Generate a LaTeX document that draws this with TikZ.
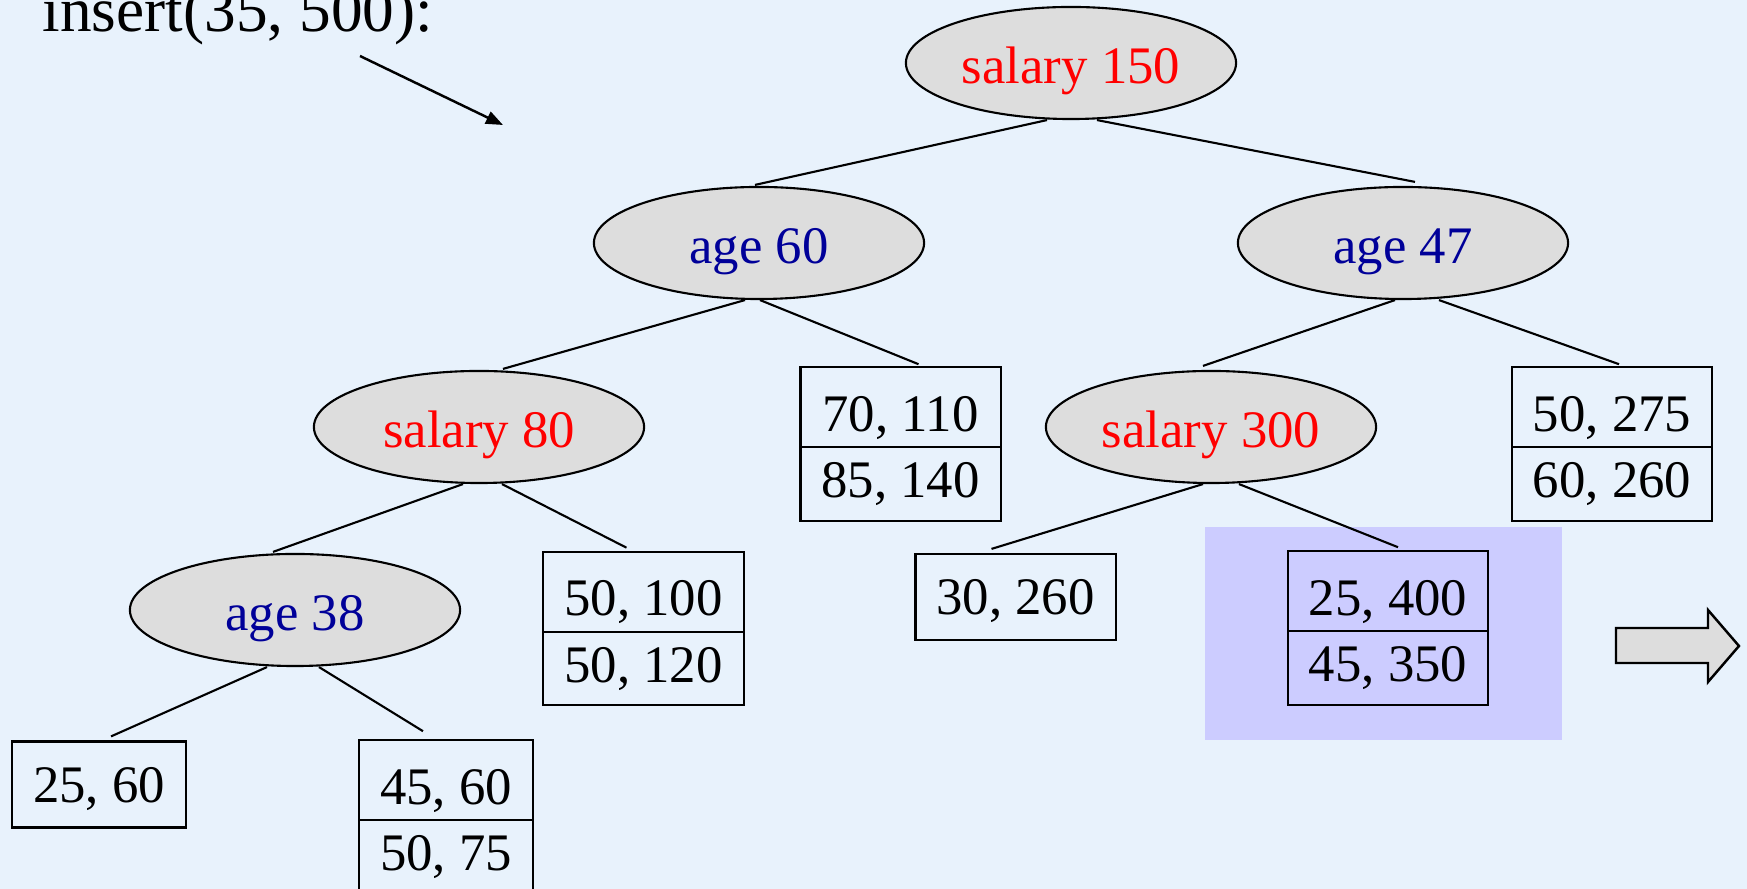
\documentclass[tikz,border=0pt]{standalone}
\usepackage{fontspec}
\setmainfont{Liberation Serif}
\usetikzlibrary{calc}
\usetikzlibrary{shapes.geometric,shapes.multipart,arrows.meta}

\definecolor{bgblue}{RGB}{232,242,252}
\definecolor{nodegray}{RGB}{221,221,221}
\definecolor{hilite}{RGB}{204,204,255}
\definecolor{agecol}{RGB}{0,0,153}

\tikzset{
    test/.style={ellipse, draw, fill=nodegray, line width=0.6pt,
        minimum width=3.3cm, minimum height=1.12cm, inner sep=0pt,
        text height=0.51cm, text depth=0.10cm,
        font=\fontsize{15}{18}\selectfont},
    agetest/.style={test, text=agecol},
    saltest/.style={test, text=red},
    leafone/.style={rectangle, draw, line width=0.6pt, minimum height=0.86cm,
        inner sep=0pt, text height=0.46cm, text depth=0.10cm,
        font=\fontsize{15}{18}\selectfont},
    leaftwo/.style={rectangle split, rectangle split parts=2, draw, line width=0.6pt,
        text height=0.49cm, text depth=0.01cm, inner ysep=0.14cm, inner xsep=0pt,
        font=\fontsize{15}{18}\selectfont},
    treeedge/.style={line width=0.6pt}
}

\begin{document}
\begin{tikzpicture}[x=0.01cm,y=-0.01cm]
    % background and margins
    \fill[bgblue] (0,0) rectangle (1747,889);
    \useasboundingbox (0,0) rectangle (1747,889);

    % the call and its pointer
    \node[anchor=base west, font=\fontsize{18}{21}\selectfont, inner sep=0pt] (call) at (42,32) {insert(35, 500):};
    \coordinate (ptrA) at (360,56);
    \coordinate (ptrB) at (503,125);
    \draw[line width=0.7pt, -{Triangle[length=0.17cm,width=0.13cm]}] (ptrA) -- (ptrB);

    % highlighted leaf
    \fill[hilite] (1205,527) rectangle (1562,740);

    % inner nodes
    \node[saltest] (s150) at (1071,63) {salary 150};
    \node[agetest] (a60) at (759,243) {age 60};
    \node[agetest] (a47) at (1403,243) {age 47};
    \node[saltest] (s80) at (479,427) {salary 80};
    \node[saltest] (s300) at (1211,427) {salary 300};
    \node[agetest] (a38) at (295,610) {age 38};

    % leaves
    \node[leaftwo, minimum width=2cm] (l70) at (900.5,444) {70, 110 \nodepart{two} 85, 140};
    \node[leaftwo, minimum width=2cm] (l275) at (1612,444) {50, 275 \nodepart{two} 60, 260};
    \node[leaftwo, minimum width=2cm] (l100) at (643.5,628.5) {50, 100 \nodepart{two} 50, 120};
    \node[leafone, minimum width=2cm] (l30) at (1015.5,597) {30, 260};
    \node[leaftwo, minimum width=2cm] (l400) at (1388,628) {25, 400 \nodepart{two} 45, 350};
    \node[leafone, minimum width=1.74cm] (l25) at (99,784.5) {25, 60};
    \node[leaftwo, minimum width=1.74cm] (l45) at (446,817) {45, 60 \nodepart{two} 50, 75};

    % tree edges
    \draw[treeedge] ($(s150.south)+(-24,0)$) -- ($(a60.north)+(-4,-1)$);
    \draw[treeedge] ($(s150.south)+(26,0)$) -- ($(a47.north)+(12,-4)$);
    \draw[treeedge] ($(a60.south)+(-14,0)$) -- ($(s80.north)+(24,-1)$);
    \draw[treeedge] ($(a60.south)+(1,0)$) -- ($(l70.north)+(18,-2)$);
    \draw[treeedge] ($(a47.south)+(-8,0)$) -- ($(s300.north)+(-8,-4)$);
    \draw[treeedge] ($(a47.south)+(36,0)$) -- ($(l275.north)+(7,-2)$);
    \draw[treeedge] ($(s80.south)+(-16,0)$) -- ($(a38.north)+(-22,-1)$);
    \draw[treeedge] ($(s80.south)+(23,0)$) -- ($(l100.north)+(-17,-3)$);
    \draw[treeedge] ($(s300.south)+(-8,0)$) -- ($(l30.north)+(-24,-4)$);
    \draw[treeedge] ($(s300.south)+(28,0)$) -- ($(l400.north)+(10,-3)$);
    \draw[treeedge] ($(a38.south)+(-28,0)$) -- ($(l25.north)+(12,-4)$);
    \draw[treeedge] ($(a38.south)+(24,0)$) -- ($(l45.north)+(-23,-8)$);

    % next-step arrow
    \filldraw[fill=nodegray, line width=0.7pt] (1616,628) -- (1708,628) -- (1708,610) -- (1739,646)
        -- (1708,682) -- (1708,663) -- (1616,663) -- cycle;
\end{tikzpicture}
\end{document}
